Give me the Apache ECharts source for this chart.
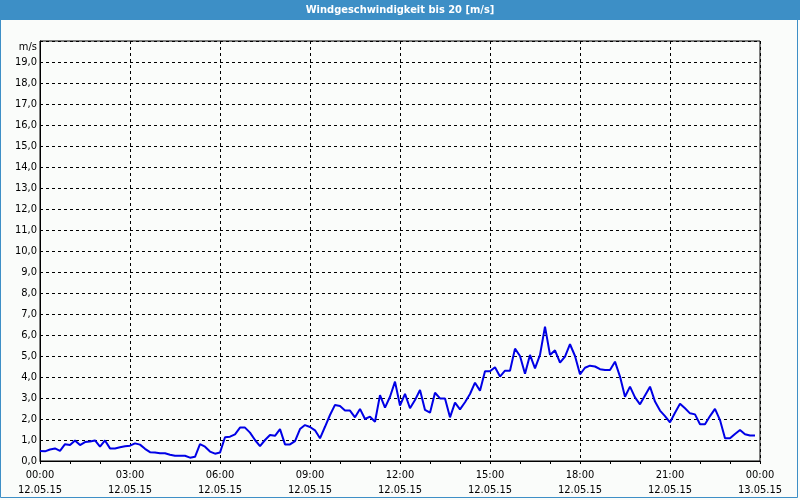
<!DOCTYPE html>
<html>
<head>
<meta charset="utf-8">
<script src="https://cdn.jsdelivr.net/npm/echarts@6/dist/echarts.min.js"></script>
<style>
html,body{margin:0;padding:0;background:#fafcfa;}
#chart{width:800px;height:500px;}
</style>
</head>
<body>
<div id="chart"></div>
<script>
// Title and units
const chartTitle = 'Windgeschwindigkeit bis 20 [m/s]';
const unitLabel = 'm/s';

// X tick labels (every 3 hours)
const tickTimes = ['00:00','03:00','06:00','09:00','12:00','15:00','18:00','21:00','00:00'];
const tickDates = ['12.05.15','12.05.15','12.05.15','12.05.15','12.05.15','12.05.15','12.05.15','12.05.15','13.05.15'];

// Sampling: one value every 10 minutes starting 00:00
const sampleStepMinutes = 10;

// Wind speed values [m/s] (00:00 .. 23:50)
const speeds = [
  0.48,0.46,0.55,0.60,0.48,0.80,0.76,0.98,0.76,0.90,0.93,0.98,
  0.68,0.98,0.60,0.60,0.65,0.70,0.73,0.84,0.78,0.58,0.42,0.40,
  0.37,0.37,0.30,0.25,0.25,0.25,0.16,0.20,0.80,0.68,0.45,0.35,
  0.40,1.13,1.16,1.27,1.59,1.59,1.35,1.00,0.71,1.00,1.24,1.20,
  1.52,0.79,0.79,0.95,1.52,1.71,1.62,1.46,1.08,1.63,2.19,2.67,
  2.62,2.41,2.40,2.08,2.48,2.00,2.11,1.87,3.14,2.54,3.06,3.78,
  2.64,3.20,2.51,2.90,3.38,2.43,2.30,3.25,2.98,2.98,2.08,2.78,
  2.46,2.80,3.19,3.73,3.35,4.27,4.27,4.46,4.02,4.30,4.30,5.35,
  5.00,4.15,5.05,4.41,5.05,6.40,5.05,5.27,4.68,4.97,5.56,5.00,
  4.13,4.44,4.54,4.50,4.37,4.33,4.33,4.73,4.02,3.06,3.54,3.03,
  2.70,3.12,3.54,2.83,2.40,2.14,1.84,2.30,2.73,2.51,2.27,2.22,
  1.75,1.75,2.14,2.48,1.95,1.08,1.08,1.29,1.48,1.27,1.21,1.21
];

const seriesData = speeds.map((v, i) => [i * sampleStepMinutes, v]);

const chart = echarts.init(document.getElementById('chart'), null, {renderer: 'canvas'});
const font = '"DejaVu Sans Condensed", "DejaVu Sans", sans-serif';

chart.setOption({
  animation: false,
  backgroundColor: '#fafcfa',
  grid: {
    left: 40, top: 41, width: 720, height: 420,
    show: true, borderColor: '#000', borderWidth: 1, backgroundColor: 'transparent'
  },
  xAxis: {
    type: 'value', min: 0, max: 1440, interval: 180,
    axisLine: {show: true, lineStyle: {color: '#000', width: 1}},
    axisTick: {show: true, length: 3, lineStyle: {color: '#000'}},
    minorTick: {show: true, splitNumber: 3, length: 3, lineStyle: {color: '#000'}},
    splitLine: {show: true, lineStyle: {color: '#000', type: [3, 3], width: 1}},
    axisLabel: {
      color: '#000', fontFamily: font, fontSize: 11, lineHeight: 15, margin: 7,
      formatter: function (val) {
        const idx = Math.round(val / 180);
        return tickTimes[idx] + '\n' + tickDates[idx];
      }
    }
  },
  yAxis: {
    type: 'value', min: 0, max: 20, interval: 1,
    axisLine: {show: true, lineStyle: {color: '#000', width: 1}},
    axisTick: {show: false},
    splitLine: {show: true, lineStyle: {color: '#000', type: [3, 3], width: 1}},
    axisLabel: {
      color: '#000', fontFamily: font, fontSize: 11, margin: 3,
      formatter: function (val) {
        if (val >= 20) return '';
        return val.toFixed(1).replace('.', ',');
      }
    }
  },
  series: [{
    type: 'line',
    data: seriesData,
    showSymbol: false,
    symbol: 'none',
    lineStyle: {color: '#0000e6', width: 2},
    itemStyle: {color: '#0000e6'}
  }],
  graphic: [
    {type: 'rect', shape: {x: 0, y: 0, width: 800, height: 20}, style: {fill: '#3d8fc6'}, z: 10},
    {type: 'text', x: 400, y: 10, style: {text: chartTitle, fill: '#fff', font: 'bold 11px ' + font, align: 'center', verticalAlign: 'middle'}, z: 11},
    {type: 'rect', shape: {x: 0.5, y: 0.5, width: 797, height: 497}, style: {fill: 'none', stroke: '#3d8fc6', lineWidth: 1}, z: 9},
    {type: 'text', x: 37, y: 47, style: {text: unitLabel, fill: '#000', font: '11px ' + font, align: 'right', verticalAlign: 'middle'}, z: 11}
  ]
});
</script>
</body>
</html>
